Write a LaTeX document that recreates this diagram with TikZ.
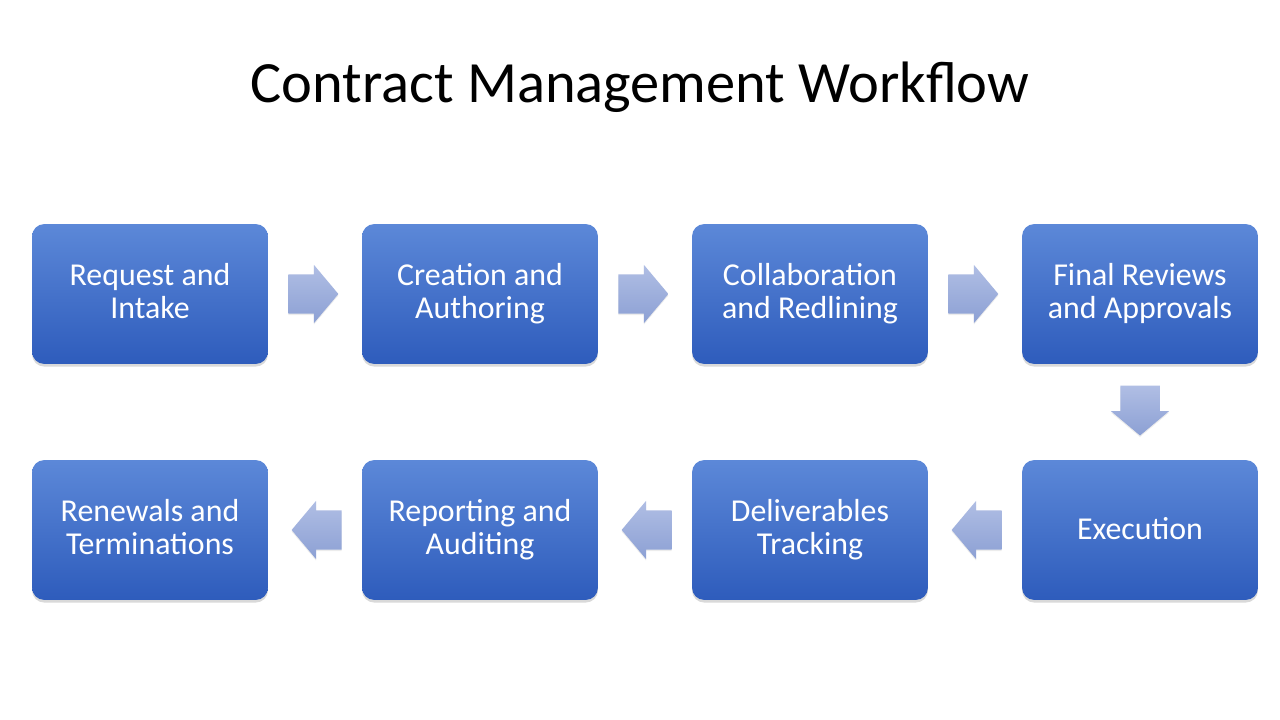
\documentclass[tikz,border=0pt]{standalone}
\usepackage{fontspec}
\setmainfont{Carlito}
\usetikzlibrary{calc}
\usetikzlibrary{positioning}
\usetikzlibrary{shapes.arrows,shadows}

\definecolor{boxtop}{RGB}{92,136,216}
\definecolor{boxbot}{RGB}{46,92,188}
\definecolor{arrtop}{RGB}{176,190,228}
\definecolor{arrbot}{RGB}{140,160,212}

\newcommand{\stepstrut}{\vrule width 0pt height 20pt depth 5pt}

\tikzset{
  stepbox/.style={rectangle, rounded corners=0.32cm, minimum width=6.24cm, minimum height=3.70cm,
    top color=boxtop, bottom color=boxbot, draw=none, text=white, align=center,
    font=\fontsize{24}{25}\selectfont,
    execute at begin node={\stepstrut}, execute at end node={\stepstrut},
    drop shadow={shadow xshift=0pt, shadow yshift=-0.07cm, opacity=0.3}},
  flowarrow/.style={single arrow, minimum height=1.32cm, inner xsep=0.05cm, inner ysep=0.515cm,
    single arrow head extend=0.25cm, single arrow tip angle=100, draw=none,
    top color=arrtop, bottom color=arrbot, anchor=tail,
    drop shadow={shadow xshift=0pt, shadow yshift=-0.04cm, opacity=0.15}}
}

\begin{document}
\begin{tikzpicture}

\useasboundingbox (0,0) rectangle (33.867,19.05);

% title
\node[anchor=base, font=\fontsize{44}{50}\selectfont] (title) at (16.933,16.325) {Contract Management Workflow};

% top row
\node[stepbox] (request) at (3.969,11.271) {Request and\\Intake};
\node[stepbox] (creation) at (12.700,11.271) {Creation and\\Authoring};
\node[stepbox] (collab) at (21.431,11.271) {Collaboration\\and Redlining};
\node[stepbox] (final) at (30.163,11.271) {Final Reviews\\and Approvals};

% bottom row
\node[stepbox] (execution) at (30.163,5.027) {Execution};
\node[stepbox] (tracking) at (21.431,5.027) {Deliverables\\Tracking};
\node[stepbox] (reporting) at (12.700,5.027) {Reporting and\\Auditing};
\node[stepbox] (renewals) at (3.969,5.027) {Renewals and\\Terminations};

% arrows between steps
\node[flowarrow] (a1) at ([xshift=0.53cm]request.east) {};
\node[flowarrow] (a2) at ([xshift=0.53cm]creation.east) {};
\node[flowarrow] (a3) at ([xshift=0.53cm]collab.east) {};
\node[flowarrow, shape border rotate=270, inner xsep=0.515cm, inner ysep=0.05cm] (a4) at ([yshift=-0.56cm]final.south) {};
\node[flowarrow, shape border rotate=180] (a5) at ([xshift=-0.53cm]execution.west) {};
\node[flowarrow, shape border rotate=180] (a6) at ([xshift=-0.53cm]tracking.west) {};
\node[flowarrow, shape border rotate=180] (a7) at ([xshift=-0.53cm]reporting.west) {};

\end{tikzpicture}
\end{document}
